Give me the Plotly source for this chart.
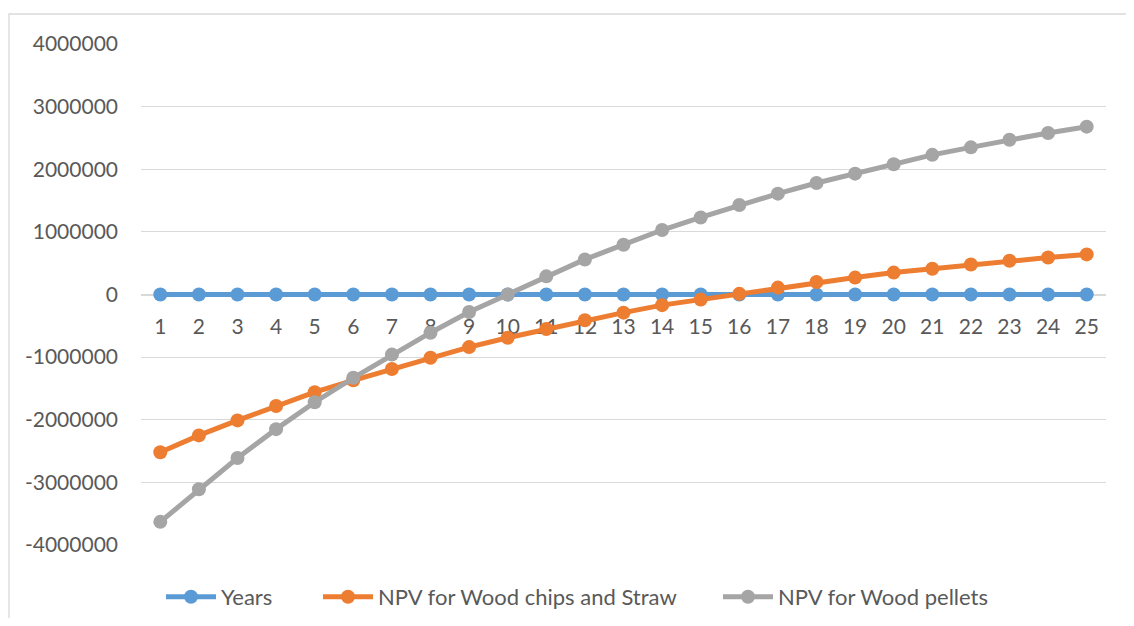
import plotly.graph_objects as go

years = list(range(1, 26))
npv_chips_straw = [-2520000, -2250000, -2010000, -1780000, -1560000, -1370000, -1190000, -1010000,
                   -840000, -690000, -550000, -410000, -290000, -170000, -80000, 10000,
                   110000, 200000, 270000, 350000, 410000, 480000, 540000, 590000, 640000]
npv_pellets = [-3630000, -3110000, -2610000, -2150000, -1720000, -1330000, -960000, -610000,
               -280000, 0, 290000, 560000, 795000, 1030000, 1230000, 1430000,
               1610000, 1780000, 1930000, 2080000, 2230000, 2350000, 2470000, 2580000, 2680000]
y_ticks = [-4000000, -3000000, -2000000, -1000000, 0, 1000000, 2000000, 3000000, 4000000]

FONT = "Lato, 'Open Sans', sans-serif"
TXT = "#595959"

# page has an 8px body margin; figure sized/offset to compensate
OFF = 8
W, H = 1134 - 2 * OFF, 626 - 2 * OFF
L, T = 141 - OFF, 44 - OFF
pw, ph = 965, 501
R, B = W - L - pw, H - T - ph

def px(page_x):
    return (page_x - 141) / pw

fig = go.Figure()
series = [("Years", years, "#5B9BD5", "legend"),
          ("NPV for Wood chips and Straw", npv_chips_straw, "#ED7D31", "legend2"),
          ("NPV for Wood pellets", npv_pellets, "#A5A5A5", "legend3")]
for name, vals, col, lg in series:
    fig.add_trace(go.Scatter(x=years, y=vals, name=name, mode="lines+markers",
                             line=dict(color=col, width=5),
                             marker=dict(color=col, size=14), legend=lg))

leg_y = -(597 - 545) / ph
leg_common = dict(orientation="h", xanchor="left", y=leg_y, yanchor="middle",
                  itemwidth=50,
                  font=dict(size=22, color=TXT, family=FONT), bgcolor="rgba(0,0,0,0)")

fig.update_layout(
    width=W, height=H,
    margin=dict(l=L, r=R, t=T, b=B, autoexpand=False),
    paper_bgcolor="white", plot_bgcolor="white",
    font=dict(family=FONT, size=21, color=TXT),
    showlegend=True,
    legend=dict(x=px(161), **leg_common),
    legend2=dict(x=px(318), **leg_common),
    legend3=dict(x=px(718), **leg_common),
    xaxis=dict(type="linear", range=[0.5, 25.5], tickmode="array", tickvals=years,
               ticktext=[str(v) for v in years], anchor="free", position=0.5, automargin=False,
               showgrid=False, zeroline=False, showline=True, linecolor="#d9d9d9", linewidth=1.3,
               layer="below traces",
               ticks="", ticklabelstandoff=13, tickfont=dict(size=21, color=TXT)),
    yaxis=dict(range=[-4000000, 4000000], tickmode="array", tickvals=y_ticks, automargin=False,
               ticktext=[str(v) for v in y_ticks], showgrid=True, gridcolor="#d9d9d9", gridwidth=1.3,
               zeroline=False, showline=False, ticks="", ticklabelstandoff=22,
               layer="below traces", tickfont=dict(size=21, color=TXT)),
    shapes=[dict(type="rect", xref="paper", yref="paper",
                 x0=px(9), x1=px(1160),
                 y0=-(700 - 545) / ph, y1=(545 - 14) / ph,
                 line=dict(color="#d9d9d9", width=1.3), fillcolor="rgba(0,0,0,0)", layer="below")],
)

fig.write_html("out.html")
